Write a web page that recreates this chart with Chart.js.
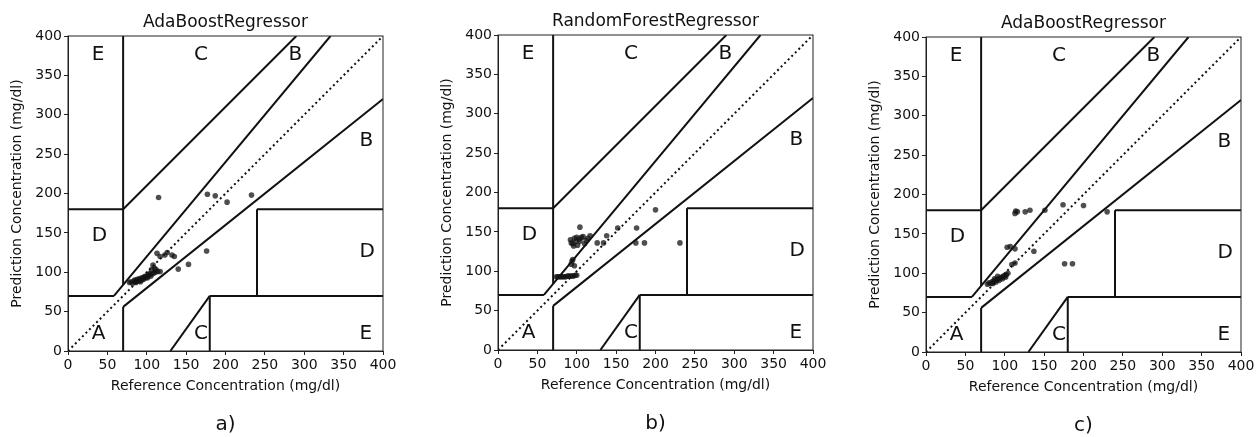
<!DOCTYPE html>
<html>
<head>
<meta charset="utf-8">
<script src="https://cdn.jsdelivr.net/npm/chart.js@4.4.0/dist/chart.umd.min.js"></script>
<style>
  body { margin: 0; background: #fff; width: 1260px; height: 437px; overflow: hidden; position: relative; }
  canvas { position: absolute; }
</style>
</head>
<body>
<canvas id="chartA" width="420" height="437" style="left:0;top:0"></canvas>
<canvas id="chartB" width="420" height="437" style="left:430px;top:-1px"></canvas>
<canvas id="chartC" width="402" height="437" style="left:858px;top:1px"></canvas>
<script>
// Clarke error grid zone boundaries (mg/dl), one segment per entry
const zoneLines = [
  [[0, 70], [58.33, 70]],
  [[58.33, 70], [333.33, 400]],
  [[70, 84], [70, 400]],
  [[0, 180], [70, 180]],
  [[70, 180], [290, 400]],
  [[70, 0], [70, 56]],
  [[70, 56], [400, 320]],
  [[180, 0], [180, 70]],
  [[180, 70], [400, 70]],
  [[240, 70], [240, 180]],
  [[240, 180], [400, 180]],
  [[130, 0], [180, 70]],
];
const diagonal = [[0, 0], [400, 400]];

const zoneLetters = ["A", "B", "B", "C", "C", "D", "D", "E", "E"];
const zoneLetterX = [30, 370, 280, 160, 160, 30, 370, 30, 370];
const zoneLetterY = [15, 260, 370, 370, 15, 140, 120, 370, 15];

const tickValues = [0, 50, 100, 150, 200, 250, 300, 350, 400];

const titles = ["AdaBoostRegressor", "RandomForestRegressor", "AdaBoostRegressor"];
const captions = ["a)", "b)", "c)"];

// [reference, prediction] pairs
const pointsA = [
  [115, 195], [177, 199], [187, 197], [202, 189], [233, 198],
  [176, 127], [153, 110], [140, 104], [135, 120], [126, 125],
  [113, 124], [117, 120], [123, 122], [132, 122], [108, 109],
  [110, 105], [106, 103], [112, 103],
  [78, 87], [80, 88], [82, 86], [84, 89], [85, 90], [87, 88], [88, 91],
  [90, 89], [91, 92], [93, 90], [94, 93], [96, 91], [97, 94], [99, 93],
  [100, 95], [102, 96], [104, 97], [105, 95], [107, 98], [109, 99],
  [111, 100], [114, 101], [117, 101], [86, 87], [89, 90], [92, 88],
  [95, 92], [98, 95], [101, 93], [103, 98],
];
const pointsB = [
  [104, 156], [200, 178], [176, 155], [152, 155], [138, 145],
  [126, 136], [134, 136], [175, 136], [186, 136], [231, 136],
  [92, 140], [93, 136], [95, 135], [97, 142], [100, 143], [101, 133],
  [104, 138], [106, 143], [108, 144], [110, 135], [112, 139], [114, 142],
  [117, 145], [96, 132], [99, 138], [103, 141],
  [94, 113], [97, 107], [93, 109], [95, 115],
  [74, 93], [76, 93], [78, 93], [80, 93], [82, 93], [84, 93], [86, 93],
  [88, 94], [90, 94], [92, 94], [94, 94], [96, 94], [98, 95], [100, 95],
];
const pointsC = [
  [113, 176], [114, 179], [116, 178], [126, 178], [132, 180], [151, 180],
  [174, 187], [200, 186], [230, 178],
  [103, 133], [107, 134], [113, 131], [137, 128], [176, 112], [186, 112],
  [109, 111], [113, 113],
  [78, 86], [80, 88], [82, 87], [84, 89], [86, 90], [88, 91], [90, 92],
  [92, 93], [94, 94], [96, 95], [98, 96], [100, 97], [102, 98], [104, 100],
  [85, 87], [89, 89], [93, 91], [97, 93], [101, 95], [87, 93], [91, 96],
];

const FONT = "'DejaVu Sans', sans-serif";
const INK = "#111";

function toXY(pairs) {
  return pairs.map((p) => ({ x: p[0], y: p[1] }));
}

const zoneLabelPlugin = {
  id: "zoneLabels",
  afterDatasetsDraw(chart) {
    const ctx = chart.ctx;
    const xs = chart.scales.x;
    const ys = chart.scales.y;
    ctx.save();
    ctx.font = "20px " + FONT;
    ctx.fillStyle = INK;
    ctx.textAlign = "left";
    ctx.textBaseline = "alphabetic";
    zoneLetters.forEach((letter, i) => {
      ctx.fillText(letter, xs.getPixelForValue(zoneLetterX[i]), ys.getPixelForValue(zoneLetterY[i]));
    });
    const a = chart.chartArea;
    ctx.strokeStyle = "#222";
    ctx.lineWidth = 1;
    ctx.strokeRect(a.left, a.top, a.right - a.left, a.bottom - a.top);
    ctx.restore();
  },
};

function axis(label, fit) {
  return {
    type: "linear",
    min: 0,
    max: 400,
    afterBuildTicks: (s) => { s.ticks = tickValues.map((v) => ({ value: v })); },
    ticks: { font: { family: FONT, size: 14 }, color: INK, padding: 2 },
    grid: { drawOnChartArea: false, tickLength: 4, color: "#222" },
    border: { color: "#222", width: 1 },
    title: { display: true, text: label, font: { family: FONT, size: 14 }, color: INK, padding: { top: 9, bottom: 0 } },
    afterFit: fit,
  };
}

function makeChart(id, title, caption, points, rightPad) {
  const datasets = [
    {
      data: toXY(points),
      backgroundColor: "rgba(20,20,20,0.75)",
      borderWidth: 0,
      pointRadius: 2.8,
    },
    {
      data: toXY(diagonal),
      showLine: true,
      borderColor: "#111",
      borderWidth: 2,
      borderDash: [2, 3],
      pointRadius: 0,
    },
  ];
  zoneLines.forEach((seg) => {
    datasets.push({
      data: toXY(seg),
      showLine: true,
      borderColor: "#111",
      borderWidth: 2,
      pointRadius: 0,
    });
  });

  const xAxis = axis("Reference Concentration (mg/dl)", (s) => { s.height = 43.4; });
  xAxis.title.padding = { top: 0, bottom: 0 };
  const yAxis = axis("Prediction Concentration (mg/dl)", (s) => { s.width = 68; });

  return new Chart(document.getElementById(id), {
    type: "scatter",
    data: { datasets: datasets },
    options: {
      responsive: false,
      animation: false,
      layout: { padding: { left: 0, right: rightPad, top: 0, bottom: 0 } },
      scales: { x: xAxis, y: yAxis },
      plugins: {
        legend: { display: false },
        tooltip: { enabled: false },
        title: {
          display: true,
          text: title,
          fullSize: false,
          color: INK,
          font: { family: FONT, size: 17, weight: "normal" },
          padding: { top: 12, bottom: 3.6 },
        },
        subtitle: {
          display: true,
          text: caption,
          position: "bottom",
          fullSize: false,
          color: INK,
          font: { family: FONT, size: 20, weight: "normal" },
          padding: { top: 18.6, bottom: 0 },
        },
      },
    },
    plugins: [zoneLabelPlugin],
  });
}

makeChart("chartA", titles[0], captions[0], pointsA, 37);
makeChart("chartB", titles[1], captions[1], pointsB, 37);
makeChart("chartC", titles[2], captions[2], pointsC, 19);
</script>
</body>
</html>
